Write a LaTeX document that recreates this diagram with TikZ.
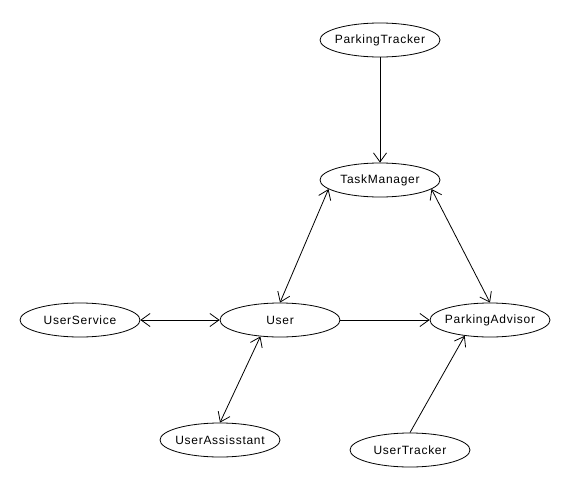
\documentclass[tikz,border=0pt]{standalone}
\usepackage{fontspec}
\setmainfont[LetterSpace=6]{Liberation Sans}
\usetikzlibrary{shapes.geometric,arrows.meta}
\newcommand\uclabel[1]{\makebox[0pt]{#1}}
\begin{document}
\begin{tikzpicture}[x=1pt,y=-1pt,
  uc/.style={ellipse,draw,line width=0.8pt,minimum width=120pt,minimum height=34pt,inner sep=0pt,font=\fontsize{12}{14}\selectfont},
  conn/.style={line width=0.8pt},
  vtip/.tip={Straight Barb[length=9pt,width=13pt,line width=0.8pt]}]
\useasboundingbox[fill=white] (0,0) rectangle (570,490);
\node[uc] (pt) at (380,40) {\uclabel{ParkingTracker}};
\node[uc] (tm) at (380,180) {\uclabel{TaskManager}};
\node[uc] (us) at (80,320) {\uclabel{UserService}};
\node[uc] (u) at (280,320) {\uclabel{User}};
\node[uc] (pa) at (490,320) {\uclabel{ParkingAdvisor}};
\node[uc] (ua) at (220,440) {\uclabel{UserAssisstant}};
\node[uc] (ut) at (410,450) {\uclabel{UserTracker}};
\draw[conn,-vtip] (pt.south) -- (tm.north);
\draw[conn,vtip-vtip] (tm.190) -- (u.north);
\draw[conn,vtip-vtip] (tm.350) -- (pa.north);
\draw[conn,-vtip] (u.east) -- (pa.west);
\draw[conn,vtip-vtip] (us.east) -- (u.west);
\draw[conn,vtip-vtip] (u.220) -- (ua.north);
\draw[conn,-vtip] (ut.north) -- (pa.212);
\end{tikzpicture}
\end{document}
